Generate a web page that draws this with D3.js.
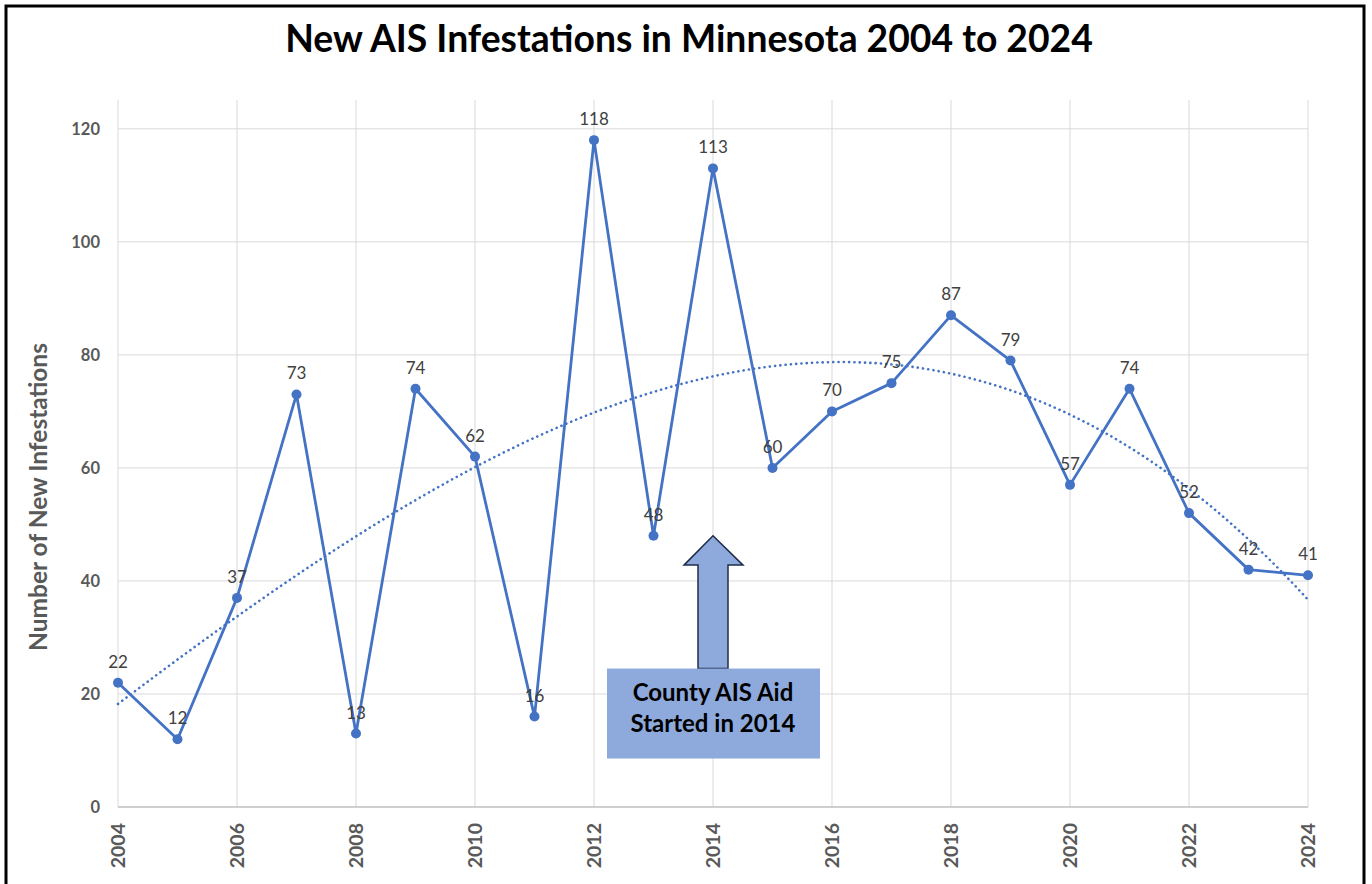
<!DOCTYPE html>
<html>
<head>
<meta charset="utf-8">
<script src="https://cdn.jsdelivr.net/npm/d3@7"></script>
<style>
  body { margin: 0; background: #fff; }
  svg { display: block; font-family: Lato, "Open Sans", sans-serif; }
</style>
</head>
<body>
<svg width="1372" height="884"></svg>
<script>
// data
var years = [2004, 2005, 2006, 2007, 2008, 2009, 2010, 2011, 2012, 2013, 2014,
             2015, 2016, 2017, 2018, 2019, 2020, 2021, 2022, 2023, 2024];
var infestations = [22, 12, 37, 73, 13, 74, 62, 16, 118, 48, 113,
                    60, 70, 75, 87, 79, 57, 74, 52, 42, 41];
var xTicks = [2004, 2006, 2008, 2010, 2012, 2014, 2016, 2018, 2020, 2022, 2024];
var yTicks = [0, 20, 40, 60, 80, 100, 120];
var titleText = "New AIS Infestations in Minnesota 2004 to 2024";
var yTitle = "Number of New Infestations";
var noteLines = ["County AIS Aid", "Started in 2014"];
var noteYear = 2014;

var blue = "#4472C4";
var grid = "#D9D9D9";
var tickGray = "#595959";

var svg = d3.select("svg");

var x = d3.scaleLinear().domain([2004, 2024]).range([118, 1308]);
var y = d3.scaleLinear().domain([0, 125.1]).range([807, 100]);

// outer frame
svg.append("rect")
    .attr("x", 6).attr("y", 6)
    .attr("width", 1358).attr("height", 900)
    .attr("fill", "none").attr("stroke", "#000").attr("stroke-width", 3);

// title, sized to the original width
var title = svg.append("text")
    .attr("x", 689).attr("y", 52)
    .attr("text-anchor", "middle")
    .attr("font-weight", "bold")
    .attr("font-size", 32)
    .attr("fill", "#000")
    .text(titleText);
var tw = title.node().getComputedTextLength();
title.attr("font-size", 32 * 808 / tw);

// gridlines
var g = svg.append("g");
g.selectAll(".hgrid")
  .data(yTicks.filter(d => d > 0))
  .enter().append("line")
    .attr("x1", x(2004)).attr("x2", x(2024))
    .attr("y1", d => y(d)).attr("y2", d => y(d))
    .attr("stroke", grid).attr("stroke-width", 1);

g.selectAll(".vgrid")
  .data(xTicks)
  .enter().append("line")
    .attr("x1", d => x(d)).attr("x2", d => x(d))
    .attr("y1", y.range()[1]).attr("y2", y(0))
    .attr("stroke", grid).attr("stroke-width", 1);

// x axis line
g.append("line")
    .attr("x1", x(2004)).attr("x2", x(2024))
    .attr("y1", y(0)).attr("y2", y(0))
    .attr("stroke", "#BFBFBF").attr("stroke-width", 1.5);

// y tick labels
var yAxis = d3.axisLeft(y).tickValues(yTicks).tickSize(0).tickPadding(18);
var ya = svg.append("g").attr("transform", "translate(" + x(2004) + ",0)").call(yAxis);
ya.select(".domain").remove();
ya.selectAll("text")
    .attr("font-family", "Lato, sans-serif")
    .attr("font-size", 16.5).attr("font-weight", "bold")
    .attr("fill", tickGray);

// x tick labels, rotated
var xAxis = d3.axisBottom(x).tickValues(xTicks).tickFormat(d3.format("d")).tickSize(0);
var xa = svg.append("g").attr("transform", "translate(0," + y(0) + ")").call(xAxis);
xa.select(".domain").remove();
xa.selectAll("text")
    .attr("font-family", "Lato, sans-serif")
    .attr("font-size", 19.5).attr("font-weight", "bold")
    .attr("fill", tickGray)
    .attr("text-anchor", "end")
    .attr("dy", "0.35em")
    .attr("transform", "translate(0,16) rotate(-90)")
    .attr("x", 0).attr("y", 0);

// y axis title
svg.append("text")
    .attr("transform", "translate(47,497) rotate(-90)")
    .attr("text-anchor", "middle")
    .attr("font-weight", "bold")
    .attr("font-size", 24.5)
    .attr("fill", tickGray)
    .text(yTitle);

// cubic polynomial trendline (least squares, like the spreadsheet)
function polyFit(xs, ys, order) {
  var n = order + 1;
  var A = [], b = [];
  for (var i = 0; i < n; i++) {
    A.push([]);
    for (var j = 0; j < n; j++) A[i].push(d3.sum(xs, v => Math.pow(v, i + j)));
    b.push(d3.sum(xs, (v, k) => Math.pow(v, i) * ys[k]));
  }
  // gaussian elimination
  for (var c = 0; c < n; c++) {
    var p = c;
    for (var r = c + 1; r < n; r++) if (Math.abs(A[r][c]) > Math.abs(A[p][c])) p = r;
    [A[c], A[p]] = [A[p], A[c]]; [b[c], b[p]] = [b[p], b[c]];
    for (var r = c + 1; r < n; r++) {
      var f = A[r][c] / A[c][c];
      for (var k = c; k < n; k++) A[r][k] -= f * A[c][k];
      b[r] -= f * b[c];
    }
  }
  var coef = new Array(n).fill(0);
  for (var i = n - 1; i >= 0; i--) {
    var s = b[i];
    for (var k = i + 1; k < n; k++) s -= A[i][k] * coef[k];
    coef[i] = s / A[i][i];
  }
  return coef;
}
var xc = years.map(d => d - 2014);
var coef = polyFit(xc, infestations, 3);
var trend = d3.range(0, 200.5).map(i => {
  var t = -10 + i * 0.1;
  return [t + 2014, coef[0] + coef[1] * t + coef[2] * t * t + coef[3] * t * t * t];
});

svg.append("path")
    .datum(trend)
    .attr("d", d3.line().x(d => x(d[0])).y(d => y(d[1])))
    .attr("fill", "none")
    .attr("stroke", blue)
    .attr("stroke-width", 2.6)
    .attr("stroke-linecap", "round")
    .attr("stroke-dasharray", "0.1 5.2");

// data line
var pts = years.map((d, i) => ({year: d, value: infestations[i]}));
svg.append("path")
    .datum(pts)
    .attr("d", d3.line().x(d => x(d.year)).y(d => y(d.value)))
    .attr("fill", "none")
    .attr("stroke", blue)
    .attr("stroke-width", 2.8)
    .attr("stroke-linejoin", "round");

svg.selectAll(".dot")
  .data(pts)
  .enter().append("circle")
    .attr("cx", d => x(d.year)).attr("cy", d => y(d.value))
    .attr("r", 5).attr("fill", blue);

svg.selectAll(".lbl")
  .data(pts)
  .enter().append("text")
    .attr("x", d => x(d.year)).attr("y", d => y(d.value) - 15)
    .attr("text-anchor", "middle")
    .attr("font-family", "Lato, sans-serif")
    .attr("font-size", 17)
    .attr("fill", "#404040")
    .text(d => d.value);

// annotation arrow and box
var ax = x(noteYear);
var tipY = y(48), headY = y(42.8), baseY = y(24.5);
var arrow = [
  [ax, tipY], [ax + 30, headY], [ax + 15, headY], [ax + 15, baseY],
  [ax - 15, baseY], [ax - 15, headY], [ax - 29, headY]
];
svg.append("path")
    .attr("d", "M" + arrow.join("L") + "Z")
    .attr("fill", "#8EA9DB")
    .attr("stroke", "#1F2D4A")
    .attr("stroke-width", 1.5);

svg.append("rect")
    .attr("x", ax - 106).attr("y", baseY)
    .attr("width", 213).attr("height", 90)
    .attr("fill", "#8EAADC");

svg.selectAll(".note")
  .data(noteLines)
  .enter().append("text")
    .attr("x", ax)
    .attr("y", (d, i) => baseY + 32 + i * 31)
    .attr("text-anchor", "middle")
    .attr("font-weight", "bold")
    .attr("font-size", 24)
    .attr("fill", "#000")
    .text(d => d);
</script>
</body>
</html>
